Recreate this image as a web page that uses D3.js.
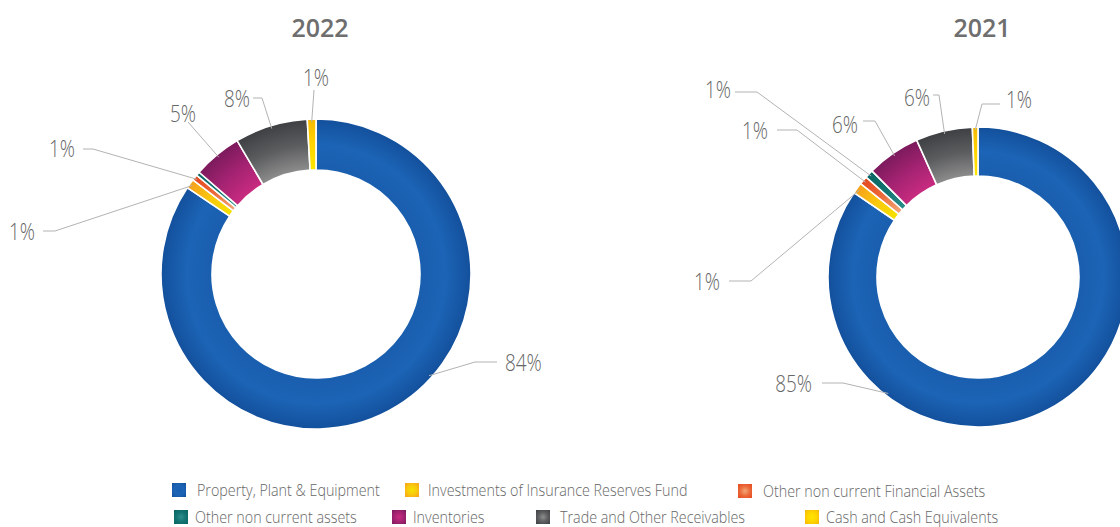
<!DOCTYPE html>
<html><head><meta charset="utf-8">
<script src="https://cdn.jsdelivr.net/npm/d3@7"></script>
<style>
html,body{margin:0;padding:0;background:#fff;}
svg{display:block;}
.lbl{font-family:"Open Sans",sans-serif;font-weight:300;font-size:23px;fill:#666;}
.leg{font-family:"Open Sans",sans-serif;font-weight:300;font-size:16px;fill:#666;}
.ttl{font-family:"Open Sans",sans-serif;font-size:25px;font-weight:600;fill:#6e6e6e;}
</style></head>
<body>
<script>
// ---- data ----
const categories = ["Property, Plant & Equipment","Investments of Insurance Reserves Fund","Other non current Financial Assets","Other non current assets","Inventories","Trade and Other Receivables","Cash and Cash Equivalents"];
const years = ["2022","2021"];
const values2022 = [84.4, 1.0, 0.6, 0.4, 5.1, 7.6, 0.9];
const values2021 = [84.5, 1.2, 0.9, 0.9, 5.8, 6.1, 0.6];
const labels2022 = ["84%","1%","1%",null,"5%","8%","1%"];
const labels2021 = ["85%","1%","1%","1%","6%","6%","1%"];

// ---- styles ----
const colorStops = [
  ["#1a5eae","#1c64b6","#13509c"],
  ["#f5e200","#f9c80e","#f7a01c"],
  ["#f2a877","#ec6a3a","#e4481f"],
  ["#2f8e8c","#127472","#0a6562"],
  ["#c92b80","#a52372","#7b1a5c"],
  ["#8d8d8d","#5c5d5f","#3e3f42"],
  ["#ffe600","#ffd400","#f5b800"]
];
const LBL_SX = 0.82, LEG_SX = 0.895;

// ---- layout ----
const W = 1120, H = 527;
const pies = [
  {year: years[0], values: values2022, labels: labels2022, cx: 316, cy: 274, ro: 155, ri: 104, tx: 320,
   layout: [
     {angle:132, elbow:[159,88], hend:[181,88], text:[189,88], anchor:"start"},
     {elbow:[-261,-43], hend:[-273,-43], text:[-281,-43], anchor:"end"},
     {elbow:[-223,-125], hend:[-233,-125], text:[-241,-126], anchor:"end"},
     null,
     {elbow:[-128,-152], hend:[-128,-152], text:[-120,-161], anchor:"end"},
     {elbow:[-54,-176], hend:[-63,-176], text:[-66,-176], anchor:"end"},
     {elbow:[-2,-184], hend:[-2,-184], text:[0,-197], anchor:"middle"}
   ]},
  {year: years[1], values: values2021, labels: labels2021, cx: 978, cy: 277, ro: 150, ri: 101, tx: 982,
   layout: [
     {angle:217.6, elbow:[-135,106], hend:[-156,106], text:[-166,106], anchor:"end"},
     {elbow:[-227,4], hend:[-249,4], text:[-258,4], anchor:"end"},
     {elbow:[-181,-147], hend:[-201,-147], text:[-210,-147], anchor:"end"},
     {elbow:[-221,-185], hend:[-243,-185], text:[-247,-188], anchor:"end"},
     {elbow:[-103,-156], hend:[-115,-156], text:[-120,-153], anchor:"end"},
     {elbow:[-39,-182], hend:[-45,-182], text:[-48,-180], anchor:"end"},
     {elbow:[4,-173], hend:[22,-173], text:[28,-178], anchor:"start"}
   ]}
];
const legendItems = [
  {x:172, y:483, tx:197}, {x:405, y:483, tx:428}, {x:738, y:484, tx:763},
  {x:174, y:510, tx:195}, {x:392, y:510, tx:413}, {x:536, y:510, tx:560}, {x:805, y:510, tx:826}
];

const svg = d3.select("body").append("svg").attr("width", W).attr("height", H);
const defs = svg.append("defs");

const pieGen = d3.pie().sort(null).value(d => d).startAngle(0).endAngle(2*Math.PI);

pies.forEach((p, pi) => {
  colorStops.forEach((cs, ci) => {
    const g = defs.append("radialGradient").attr("id", `g${pi}_${ci}`)
      .attr("gradientUnits","userSpaceOnUse").attr("cx",0).attr("cy",0).attr("r",p.ro);
    g.append("stop").attr("offset", p.ri/p.ro).attr("stop-color", cs[0]);
    g.append("stop").attr("offset", (p.ri+p.ro)/2/p.ro).attr("stop-color", cs[1]);
    g.append("stop").attr("offset", 1).attr("stop-color", cs[2]);
  });
  const g = svg.append("g").attr("transform", `translate(${p.cx},${p.cy})`);
  const arc = d3.arc().innerRadius(p.ri).outerRadius(p.ro);
  const arcs = pieGen(p.values);
  g.selectAll("path.slice").data(arcs).join("path").attr("class","slice")
    .attr("d", arc)
    .attr("fill", (d,i) => `url(#g${pi}_${i})`)
    .attr("stroke","#fff").attr("stroke-width",1.6).attr("stroke-linejoin","round");

  const rAnchor = p.ro - 3;
  arcs.forEach((d, i) => {
    const L = p.layout[i];
    if (!L || !p.labels[i]) return;
    const a = L.angle != null ? L.angle*Math.PI/180 : (d.startAngle + d.endAngle)/2;
    const start = [rAnchor*Math.sin(a), -rAnchor*Math.cos(a)];
    g.append("polyline")
      .attr("points", [start, L.elbow, L.hend].map(q => q.join(",")).join(" "))
      .attr("fill","none").attr("stroke","#b3b3b3").attr("stroke-width",1);
    g.append("text").attr("class","lbl")
      .attr("transform", `translate(${L.text[0]},${L.text[1]}) scale(${LBL_SX},1)`)
      .attr("text-anchor", L.anchor).attr("dominant-baseline","central")
      .text(p.labels[i]);
  });

  svg.append("text").attr("class","ttl").attr("x", p.tx).attr("y", 27)
    .attr("text-anchor","middle").attr("dominant-baseline","central").text(p.year);
});

colorStops.forEach((cs, ci) => {
  const g = defs.append("radialGradient").attr("id", `lg${ci}`)
    .attr("cx","50%").attr("cy","50%").attr("r","70%");
  g.append("stop").attr("offset",0).attr("stop-color", cs[0]);
  g.append("stop").attr("offset",0.5).attr("stop-color", cs[1]);
  g.append("stop").attr("offset",1).attr("stop-color", cs[2]);
});
const leg = svg.append("g");
categories.forEach((c, i) => {
  const L = legendItems[i];
  leg.append("rect").attr("x", L.x).attr("y", L.y).attr("width", 14).attr("height", 14)
    .attr("fill", `url(#lg${i})`);
  leg.append("text").attr("class","leg")
    .attr("transform", `translate(${L.tx},${L.y + 7}) scale(${LEG_SX},1)`)
    .attr("dominant-baseline","central").text(c);
});
</script>
</body></html>
